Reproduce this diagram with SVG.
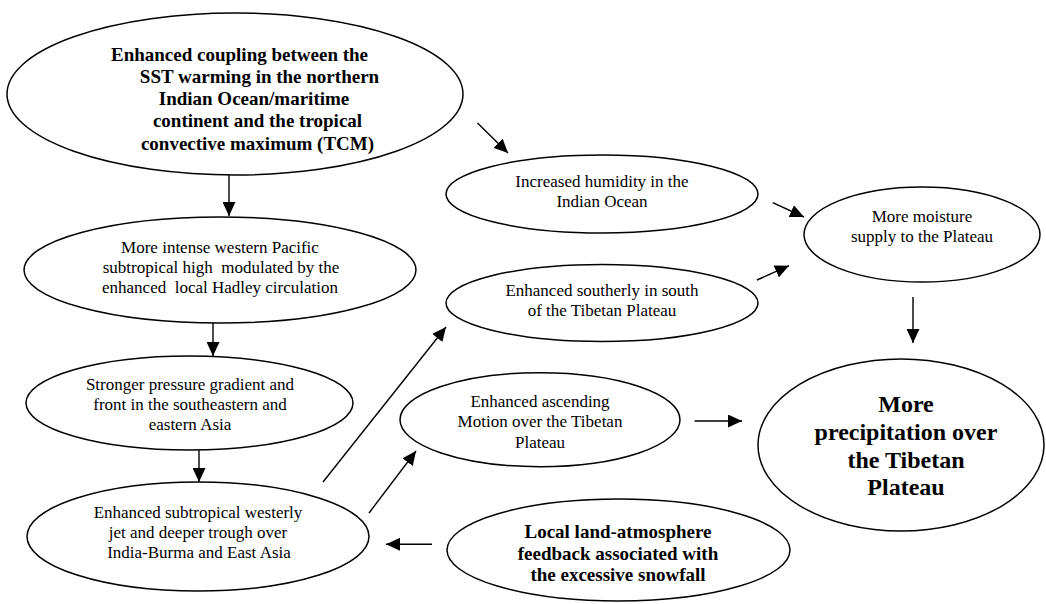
<svg xmlns="http://www.w3.org/2000/svg" width="1046" height="604" viewBox="0 0 1046 604">
<defs>
<style>
.n{fill:#fff;stroke:#000;stroke-width:1.5}
.t{font-family:"Liberation Serif","Times New Roman",serif;font-size:17px;fill:#000;text-anchor:middle;white-space:pre}
.b{font-family:"Liberation Serif","Times New Roman",serif;font-size:19px;font-weight:bold;fill:#000;text-anchor:middle}
.bb{font-family:"Liberation Serif","Times New Roman",serif;font-size:24px;font-weight:bold;fill:#000;text-anchor:middle}
.c line{stroke:#000;stroke-width:1.4;marker-end:url(#ah)}
</style>
<marker id="ah" markerUnits="userSpaceOnUse" markerWidth="14" markerHeight="13" refX="14" refY="6.5" orient="auto">
<path d="M0,0 L14,6.5 L0,13 Z" fill="#000"/>
</marker>
</defs>
<rect width="1046" height="604" fill="#fff"/>
<g class="c" id="connectors">
<line x1="229" y1="175" x2="229" y2="216"/>
<line x1="213" y1="323" x2="213" y2="356"/>
<line x1="199" y1="450" x2="199" y2="482"/>
<line x1="477.5" y1="123" x2="508" y2="153"/>
<line x1="772.7" y1="202.7" x2="804" y2="217"/>
<line x1="757" y1="280" x2="789" y2="265.7"/>
<line x1="913" y1="297" x2="913" y2="343"/>
<line x1="323" y1="482" x2="446" y2="327"/>
<line x1="369" y1="513" x2="416" y2="451"/>
<line x1="694.6" y1="421" x2="742" y2="421"/>
<line x1="432" y1="544.3" x2="386" y2="544.3"/>
</g>
<g id="node-coupling">
<ellipse class="n" cx="235" cy="94" rx="228" ry="81"/>
<text class="b" x="239.5" y="60.7">Enhanced coupling between the</text>
<text class="b" x="259.5" y="83">SST warming in the northern</text>
<text class="b" x="254" y="105">Indian Ocean/maritime</text>
<text class="b" x="257.5" y="127">continent and the tropical</text>
<text class="b" x="257.5" y="150">convective maximum (TCM)</text>
</g>
<g id="node-pacific-high">
<ellipse class="n" cx="220" cy="270" rx="196" ry="53"/>
<text class="t" x="220" y="253.3">More intense western Pacific</text>
<text class="t" x="221" y="273.3">subtropical high  modulated by the</text>
<text class="t" x="220" y="293.3">enhanced  local Hadley circulation</text>
</g>
<g id="node-pressure-gradient">
<ellipse class="n" cx="189.5" cy="403" rx="163.5" ry="47"/>
<text class="t" x="190" y="390">Stronger pressure gradient and</text>
<text class="t" x="190" y="410">front in the southeastern and</text>
<text class="t" x="190" y="429.5">eastern Asia</text>
</g>
<g id="node-westerly-jet">
<ellipse class="n" cx="198" cy="536.5" rx="171" ry="54.5"/>
<text class="t" x="198" y="518">Enhanced subtropical westerly</text>
<text class="t" x="198" y="538">jet and deeper trough over</text>
<text class="t" x="199" y="558">India-Burma and East Asia</text>
</g>
<g id="node-humidity">
<ellipse class="n" cx="602" cy="194" rx="156" ry="39"/>
<text class="t" x="602" y="187">Increased humidity in the</text>
<text class="t" x="602" y="207">Indian Ocean</text>
</g>
<g id="node-southerly">
<ellipse class="n" cx="602" cy="303" rx="156" ry="38.5"/>
<text class="t" x="602" y="296">Enhanced southerly in south</text>
<text class="t" x="602" y="316">of the Tibetan Plateau</text>
</g>
<g id="node-ascending">
<ellipse class="n" cx="540" cy="419.7" rx="140" ry="47"/>
<text class="t" x="540" y="407">Enhanced ascending</text>
<text class="t" x="540" y="427">Motion over the Tibetan</text>
<text class="t" x="540" y="447.7">Plateau</text>
</g>
<g id="node-moisture">
<ellipse class="n" cx="922" cy="234.5" rx="118" ry="47.5"/>
<text class="t" x="922" y="221.7">More moisture</text>
<text class="t" x="922" y="241.7">supply to the Plateau</text>
</g>
<g id="node-precipitation">
<ellipse class="n" cx="901" cy="445" rx="143" ry="86"/>
<text class="bb" x="906" y="411.7">More</text>
<text class="bb" x="906" y="440">precipitation over</text>
<text class="bb" x="906" y="467.7">the Tibetan</text>
<text class="bb" x="906" y="495">Plateau</text>
</g>
<g id="node-land-atmosphere">
<ellipse class="n" cx="618.5" cy="550" rx="171.5" ry="51"/>
<text class="b" x="618" y="538">Local land-atmosphere</text>
<text class="b" x="618" y="560">feedback associated with</text>
<text class="b" x="618" y="580.7">the excessive snowfall</text>
</g>
</svg>
